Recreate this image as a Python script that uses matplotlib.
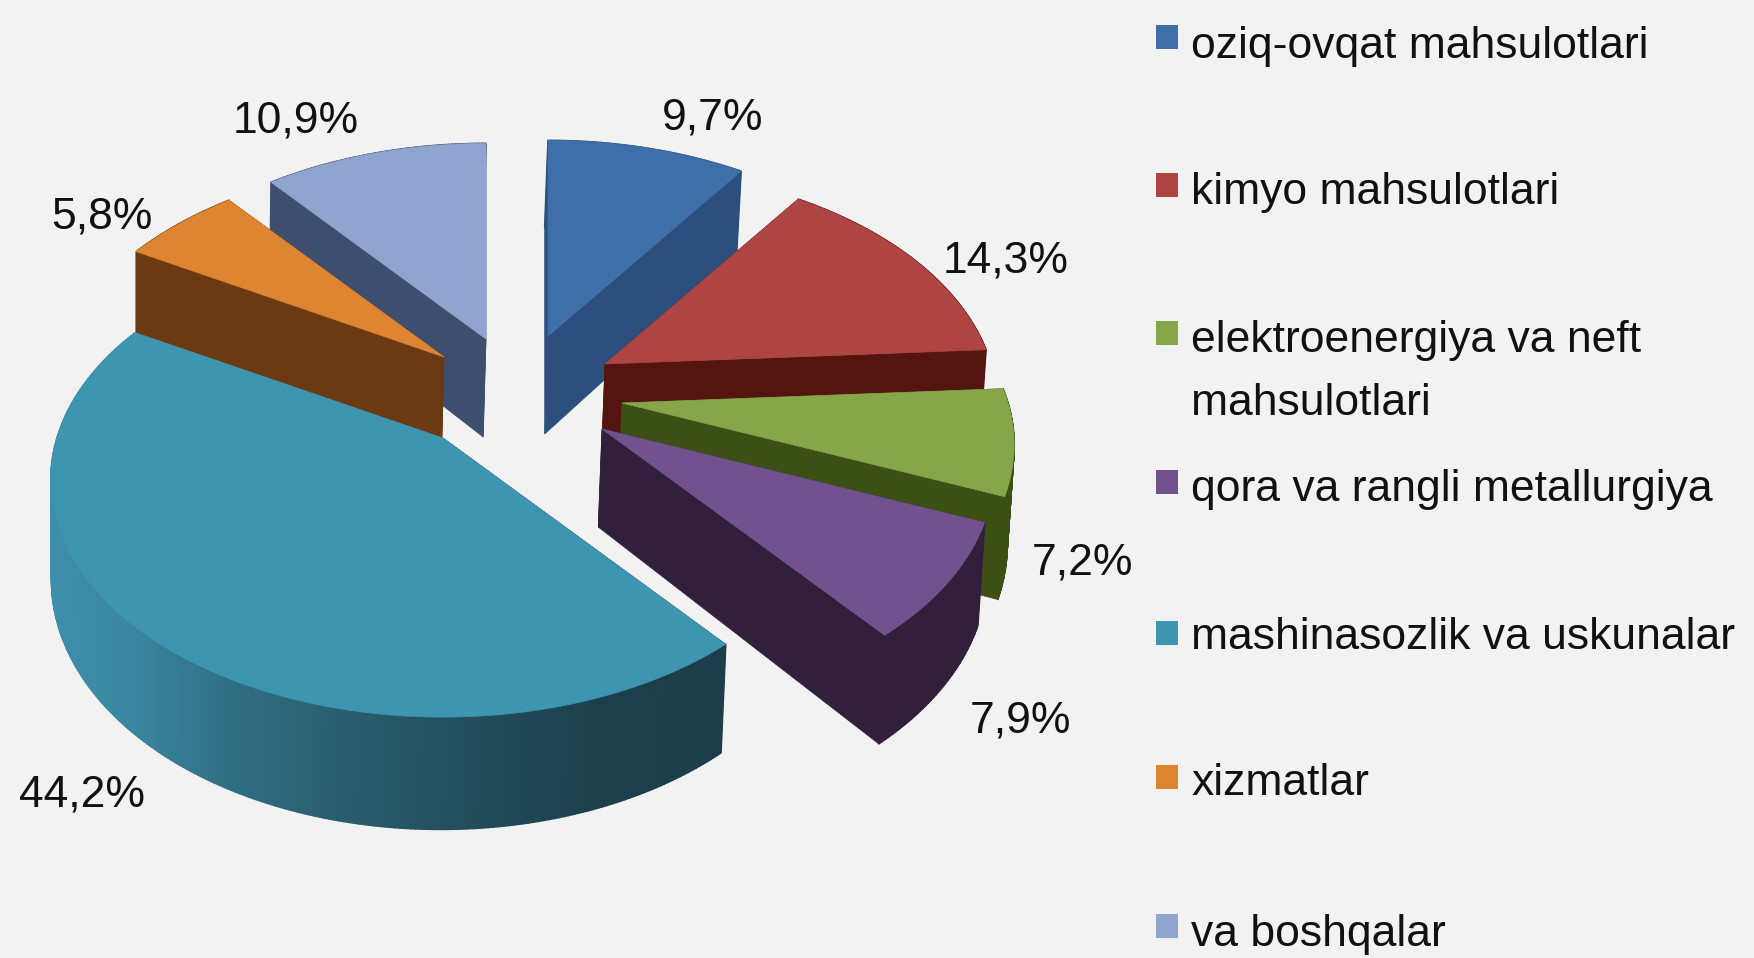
import numpy as np
import matplotlib
matplotlib.use("Agg")
import matplotlib.pyplot as plt
from matplotlib import font_manager as fm
from matplotlib.collections import PolyCollection
from matplotlib.colors import to_rgb
from matplotlib.patches import Rectangle, Polygon

names = {f.name for f in fm.fontManager.ttflist}
NARROW = "Liberation Sans Narrow" in names
plt.rcParams['font.family'] = ['Liberation Sans Narrow' if NARROW else 'Liberation Sans', 'DejaVu Sans']
FS = 39 if NARROW else 32

# ---- data ----
categories = ["oziq-ovqat mahsulotlari", "kimyo mahsulotlari",
              "elektroenergiya va neft\nmahsulotlari", "qora va rangli metallurgiya",
              "mashinasozlik va uskunalar", "xizmatlar", "va boshqalar"]
values = [9.7, 14.3, 7.2, 7.9, 44.2, 5.8, 10.9]

# ---- style ----
top_colors = ["#3F6FA8", "#AF4543", "#87A64A", "#71528F", "#3E95AF", "#DD8530", "#8FA5CF"]
side_colors = ["#2C4F7E", "#541410", "#3C5016", "#321F3C", None, "#6B3A12", "#3E4E6E"]
apex = [(548, 336), (605, 364), (622, 403), (602, 429), (443, 438), (444, 357), (486, 339)]
draw_order = [0, 6, 5, 1, 2, 3, 4]
label_xy = [(713, 129), (1006, 272), (1083, 574), (1021, 733), (82, 807), (102, 228), (296, 132)]
square_y = [37, 185, 333, 482, 633, 777, 926]
baseline_y = [58, 204, (352, 415), 501, 649, 795, 946]
BG = "#F2F2F2"
INK = "#111111"
RX, RY, K, DEPTH, DRIFT, XV = 386, 230, 0.176, 98, 0.008, 135

fig = plt.figure(figsize=(17.54, 9.58), dpi=100, facecolor=BG)
ax = fig.add_axes([0, 0, 1, 1])
ax.set_xlim(0, 1754)
ax.set_ylim(958, 0)
ax.axis("off")


def top_pt(c, r, t):
    X, Y = r * np.sin(t), r * np.cos(t)
    s = 1 / (1 + K * Y)
    return c[0] + RX * X * s, c[1] - RY * Y * s, s


def bot_pt(c, r, t):
    x, y, s = top_pt(c, r, t)
    return x - DRIFT * (x - XV), y + DEPTH * s ** 0.7


def teal_side(x):
    xs = [50, 130, 240, 400, 600, 730]
    cs = np.array([to_rgb(h) for h in ["#3E8FAB", "#3A86A0", "#2F6D80", "#265565", "#1D3F4B", "#1C3D49"]])
    return tuple(np.interp(x, xs, cs[:, i]) for i in range(3))


def draw_slice(i, t0, t1):
    c = apex[i]
    ts = np.linspace(t0, t1, max(int((t1 - t0) * 90), 12))
    side = side_colors[i]
    for t in (t0, t1):
        a, b = top_pt(c, 1, t), bot_pt(c, 1, t)
        a0, b0 = top_pt(c, 0, t), bot_pt(c, 0, t)
        col = side if side else teal_side(a[0])
        if side is None and t == t1:
            continue
        ax.add_patch(Polygon([a0[:2], a[:2], b, b0], closed=True, fc=col, ec=col, lw=0.5))
    quads, cols = [], []
    for u, v in zip(ts[:-1], ts[1:]):
        a, b = top_pt(c, 1, u), top_pt(c, 1, v)
        quads.append([a[:2], b[:2], bot_pt(c, 1, v), bot_pt(c, 1, u)])
        cols.append(side if side else teal_side((a[0] + b[0]) / 2))
    ax.add_collection(PolyCollection(quads, facecolors=cols, edgecolors=cols, linewidths=1.2))
    pts = [top_pt(c, 0, t0)[:2]] + [top_pt(c, 1, t)[:2] for t in ts]
    ax.add_patch(Polygon(pts, closed=True, fc=top_colors[i], ec=top_colors[i], lw=0.5))


edges = np.concatenate([[0], np.cumsum(values)]) / sum(values) * 2 * np.pi
for i in draw_order:
    draw_slice(i, edges[i], edges[i + 1])

for v, (x, y) in zip(values, label_xy):
    ax.text(x, y, f"{v:.1f}".replace(".", ",") + "%", ha="center", va="baseline",
            fontsize=FS, color=INK)

for name, col, sy, by in zip(categories, top_colors, square_y, baseline_y):
    ax.add_patch(Rectangle((1156, sy - 12), 22, 24, fc=col, ec="none"))
    ys = by if isinstance(by, tuple) else (by,)
    for line, y in zip(name.split("\n"), ys):
        ax.text(1191, y, line, ha="left", va="baseline", fontsize=FS, color=INK)

fig.savefig("out.png", dpi=100, facecolor=BG)
